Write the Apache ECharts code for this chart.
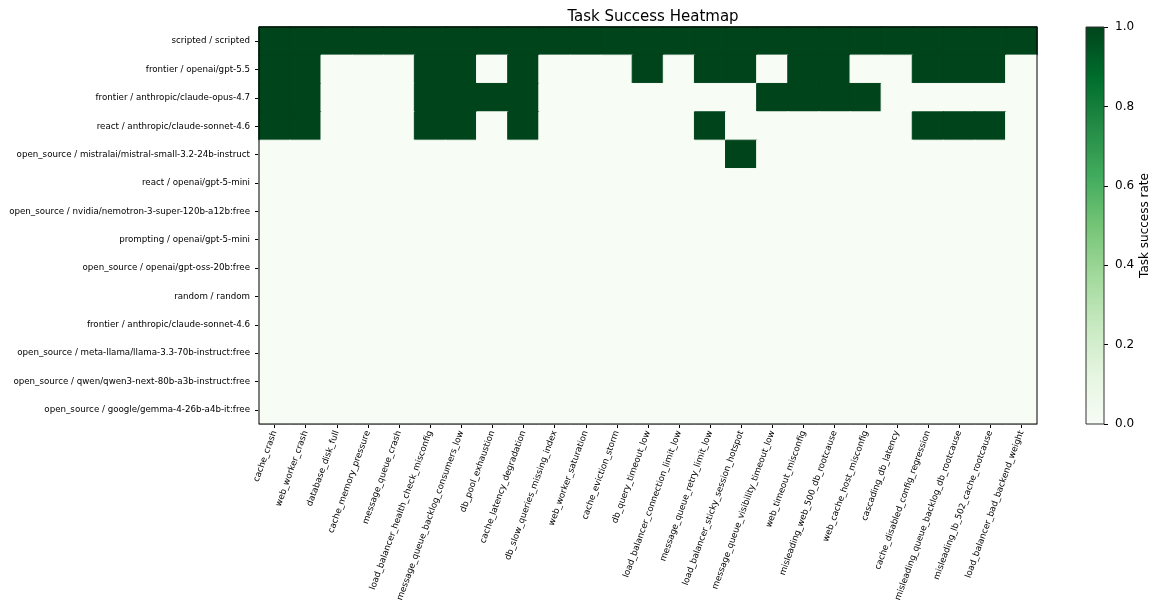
<!DOCTYPE html>
<html>
<head>
<meta charset="utf-8">
<script src="https://cdn.jsdelivr.net/npm/echarts@6/dist/echarts.min.js"></script>
<style>
html,body{margin:0;padding:0;background:#fff;}
#chart{width:1154px;height:610px;}
</style>
</head>
<body>
<div id="chart"></div>
<script>
const tasks = [
  'cache_crash','web_worker_crash','database_disk_full','cache_memory_pressure','message_queue_crash',
  'load_balancer_health_check_misconfig','message_queue_backlog_consumers_low','db_pool_exhaustion',
  'cache_latency_degradation','db_slow_queries_missing_index','web_worker_saturation','cache_eviction_storm',
  'db_query_timeout_low','load_balancer_connection_limit_low','message_queue_retry_limit_low',
  'load_balancer_sticky_session_hotspot','message_queue_visibility_timeout_low','web_timeout_misconfig',
  'misleading_web_500_db_rootcause','web_cache_host_misconfig','cascading_db_latency',
  'cache_disabled_config_regression','misleading_queue_backlog_db_rootcause',
  'misleading_lb_502_cache_rootcause','load_balancer_bad_backend_weight'
];
const agents = [
  'scripted / scripted',
  'frontier / openai/gpt-5.5',
  'frontier / anthropic/claude-opus-4.7',
  'react / anthropic/claude-sonnet-4.6',
  'open_source / mistralai/mistral-small-3.2-24b-instruct',
  'react / openai/gpt-5-mini',
  'open_source / nvidia/nemotron-3-super-120b-a12b:free',
  'prompting / openai/gpt-5-mini',
  'open_source / openai/gpt-oss-20b:free',
  'random / random',
  'frontier / anthropic/claude-sonnet-4.6',
  'open_source / meta-llama/llama-3.3-70b-instruct:free',
  'open_source / qwen/qwen3-next-80b-a3b-instruct:free',
  'open_source / google/gemma-4-26b-a4b-it:free'
];
const successRows = [
  [1,1,1,1,1,1,1,1,1,1,1,1,1,1,1,1,1,1,1,1,1,1,1,1,1],
  [1,1,0,0,0,1,1,0,1,0,0,0,1,0,1,1,0,1,1,0,0,1,1,1,0],
  [1,1,0,0,0,1,1,1,1,0,0,0,0,0,0,0,1,1,1,1,0,0,0,0,0],
  [1,1,0,0,0,1,1,0,1,0,0,0,0,0,1,0,0,0,0,0,0,1,1,1,0],
  [0,0,0,0,0,0,0,0,0,0,0,0,0,0,0,1,0,0,0,0,0,0,0,0,0],
  [0,0,0,0,0,0,0,0,0,0,0,0,0,0,0,0,0,0,0,0,0,0,0,0,0],
  [0,0,0,0,0,0,0,0,0,0,0,0,0,0,0,0,0,0,0,0,0,0,0,0,0],
  [0,0,0,0,0,0,0,0,0,0,0,0,0,0,0,0,0,0,0,0,0,0,0,0,0],
  [0,0,0,0,0,0,0,0,0,0,0,0,0,0,0,0,0,0,0,0,0,0,0,0,0],
  [0,0,0,0,0,0,0,0,0,0,0,0,0,0,0,0,0,0,0,0,0,0,0,0,0],
  [0,0,0,0,0,0,0,0,0,0,0,0,0,0,0,0,0,0,0,0,0,0,0,0,0],
  [0,0,0,0,0,0,0,0,0,0,0,0,0,0,0,0,0,0,0,0,0,0,0,0,0],
  [0,0,0,0,0,0,0,0,0,0,0,0,0,0,0,0,0,0,0,0,0,0,0,0,0],
  [0,0,0,0,0,0,0,0,0,0,0,0,0,0,0,0,0,0,0,0,0,0,0,0,0]
];
const colorbarTicks = [0, 0.2, 0.4, 0.6, 0.8, 1.0];
const colorbarRange = [1];
const greens = ['#f7fcf5','#e5f5e0','#c7e9c0','#a1d99b','#74c476','#41ab5d','#238b45','#006d2c','#00441b'];

const heatData = [];
successRows.forEach((row, r) => row.forEach((v, c) => {
  const col = echarts.color.lerp(v, greens);
  heatData.push({value: [c, r, v], itemStyle: {borderColor: col, borderWidth: 1}});
}));

const FONT = 'DejaVu Sans';
const chart = echarts.init(document.getElementById('chart'), null, {renderer: 'canvas'});
chart.setOption({
  animation: false,
  backgroundColor: '#fff',
  textStyle: {fontFamily: FONT},
  title: {
    text: 'Task Success Heatmap',
    left: 648, textAlign: 'center', top: 5,
    textStyle: {fontFamily: FONT, fontSize: 15, fontWeight: 'normal', color: '#000'}
  },
  grid: [
    {left: 259, top: 27, width: 778, height: 397, show: true, borderColor: '#000', borderWidth: 1, backgroundColor: 'transparent', z: 5},
    {left: 1086, top: 27, width: 18, height: 397, show: true, borderColor: '#333', borderWidth: 1, backgroundColor: 'transparent', z: 5}
  ],
  xAxis: [
    {
      type: 'category', data: tasks, gridIndex: 0, position: 'bottom',
      axisLine: {show: true, lineStyle: {color: '#000', width: 1}},
      axisTick: {show: true, alignWithLabel: true, length: 4, lineStyle: {color: '#000'}},
      axisLabel: {interval: 0, rotate: 70, fontSize: 8.7, color: '#000', fontFamily: FONT, margin: 7},
      splitLine: {show: false}
    },
    {
      type: 'category', data: ['cb'], gridIndex: 1,
      show: false
    }
  ],
  yAxis: [
    {
      type: 'category', data: agents, gridIndex: 0, inverse: true,
      axisLine: {show: true, lineStyle: {color: '#000', width: 1}},
      axisTick: {show: true, alignWithLabel: true, length: 4, lineStyle: {color: '#000'}},
      axisLabel: {interval: 0, fontSize: 8.7, color: '#000', fontFamily: FONT, margin: 9},
      splitLine: {show: false}
    },
    {
      type: 'value', gridIndex: 1, min: 0, max: 1, interval: 0.2, position: 'right',
      axisLine: {show: false},
      axisTick: {show: true, length: 4, lineStyle: {color: '#000'}},
      axisLabel: {fontSize: 12, color: '#000', fontFamily: FONT, margin: 11,
        formatter: v => colorbarTicks.includes(Math.round(v*10)/10) ? v.toFixed(1) : ''},
      splitLine: {show: false},
      name: 'Task success rate', nameLocation: 'middle', nameRotate: 90, nameGap: 35,
      nameTextStyle: {fontSize: 12, color: '#000', fontFamily: FONT}
    }
  ],
  visualMap: {
    show: false, type: 'continuous', min: 0, max: 1, seriesIndex: 0,
    inRange: {color: greens}
  },
  series: [
    {
      type: 'heatmap', xAxisIndex: 0, yAxisIndex: 0, data: heatData,
      emphasis: {disabled: true}
    },
    {
      type: 'bar', xAxisIndex: 1, yAxisIndex: 1, data: colorbarRange,
      barWidth: '100%', silent: true,
      itemStyle: {
        color: {type: 'linear', x: 0, y: 0, x2: 0, y2: 1,
          colorStops: greens.slice().reverse().map((c, i, a) => ({offset: i/(a.length-1), color: c}))}
      }
    }
  ]
});
</script>
</body>
</html>
